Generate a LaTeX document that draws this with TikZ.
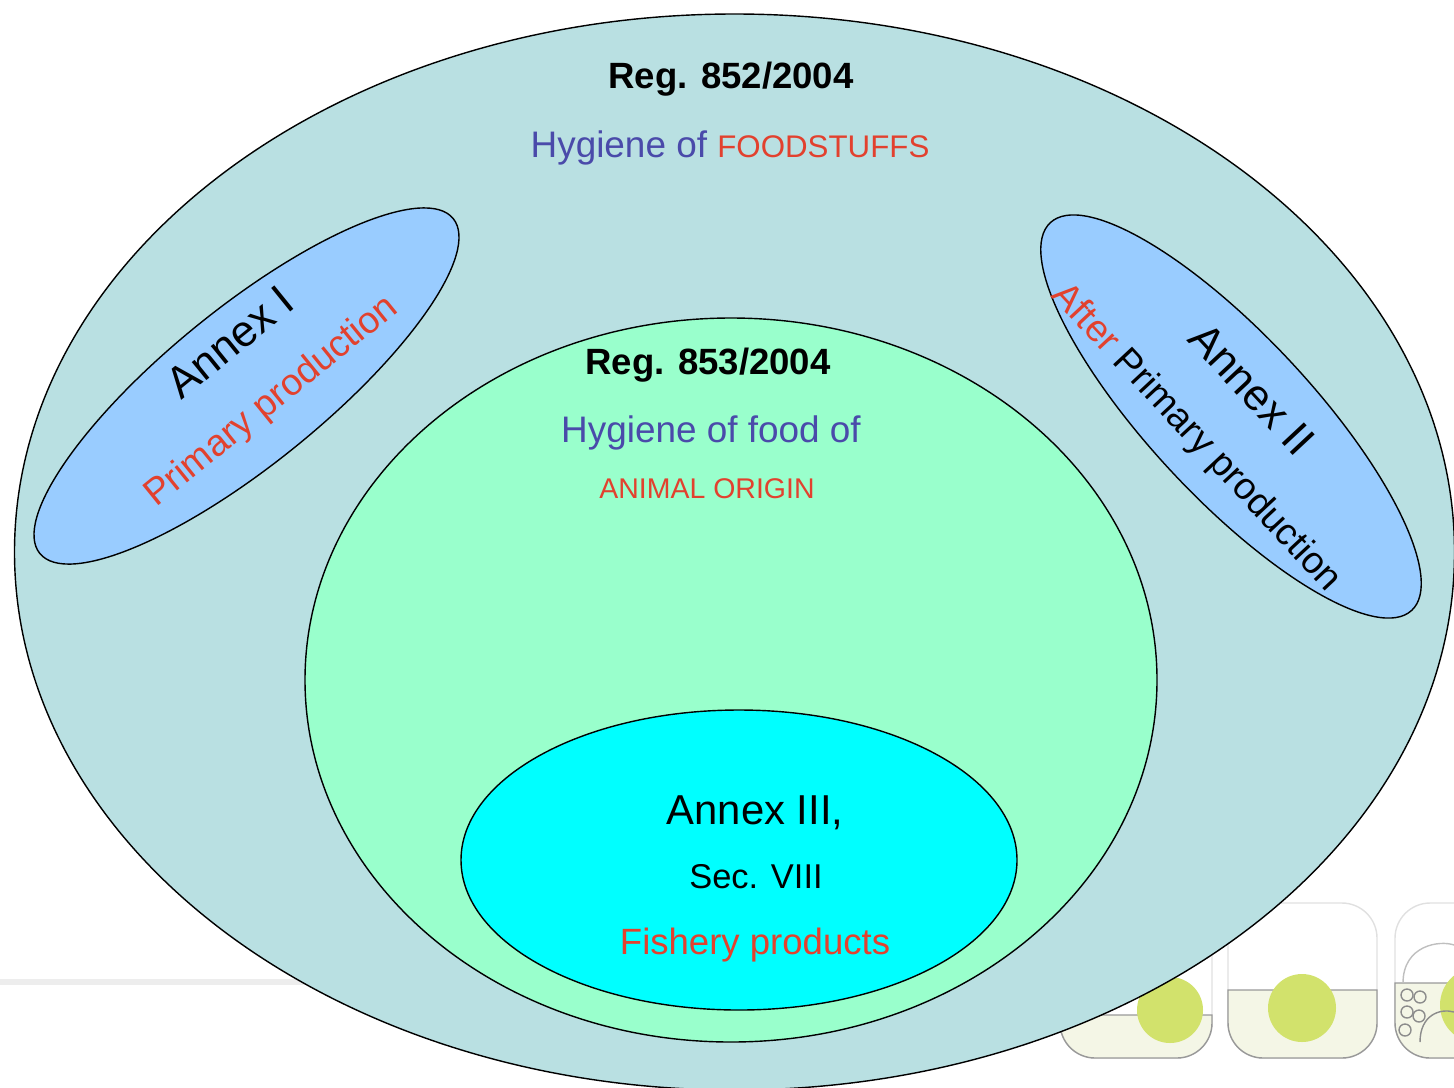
\documentclass[tikz,border=0pt]{standalone}
\usepackage{fontspec}
\setmainfont{Liberation Sans}
\usepackage{xcolor}
\definecolor{outerFill}{HTML}{B9E0E2}
\definecolor{annexFill}{HTML}{99CCFF}
\definecolor{animalFill}{HTML}{99FFCC}
\definecolor{fishFill}{HTML}{00FFFF}
\definecolor{regBlue}{HTML}{4A4AAA}
\definecolor{regRed}{HTML}{E2412E}
\definecolor{iconGreen}{HTML}{D2E26C}
\definecolor{iconFill}{HTML}{F4F6E6}
\newcommand{\pxUnit}{0.1mm}
\newcommand{\regFont}{\fontsize{10.4}{12}\selectfont\bfseries}
\newcommand{\hygFont}{\fontsize{10.5}{12}\selectfont}
\newcommand{\annexFont}{\fontsize{12.5}{14}\selectfont}
\newcommand{\annexAngleI}{39}
\newcommand{\annexAngleII}{-47}

\begin{document}
\begin{tikzpicture}[x=\pxUnit, y=-\pxUnit, set/.style={draw=black, line width=0.4pt}]

\useasboundingbox (0,0) rectangle (1454,1087);
\clip (0,0) rectangle (1454,1087);

% slide background
\draw[black!7, line width=1.5pt] (0,982) -- (1060,982);
\foreach \boxLeft/\boxRight/\waterLine in {1060/1212/1015, 1228/1377/990, 1395/1545/983}{
   \draw[black!12, rounded corners=10] (\boxLeft,903) rectangle (\boxRight,1058);
   \filldraw[draw=black!40, fill=iconFill] (\boxLeft,\waterLine) {[rounded corners=10] -- (\boxLeft,1058) -- (\boxRight,1058)} -- (\boxRight,\waterLine) -- cycle;
}
\fill[iconGreen] (1170,1010) circle [radius=33];
\fill[iconGreen] (1302,1008) circle [radius=34];
\fill[iconGreen] (1478,1005) circle [radius=38];
\foreach \grapeX/\grapeY in {1407/995, 1420/997, 1407/1012, 1419/1016, 1405/1030}
   \draw[black!45] (\grapeX,\grapeY) circle [radius=6];
\draw[black!45] (1420,1042) .. controls (1420,1015) and (1440,1008) .. (1454,1012);
\draw[black!25] (1403,983) .. controls (1403,945) and (1440,940) .. (1454,945);

% Reg. 852/2004
\filldraw[set, fill=outerFill] (734.5,552) ellipse [x radius=720, y radius=538];

% Annex I and Annex II
\filldraw[set, fill=annexFill, rotate around={\annexAngleI:(246.5,386)}] (246.5,386) ellipse [x radius=266, y radius=78];
\filldraw[set, fill=annexFill, rotate around={\annexAngleII:(1231,416.5)}] (1231,416.5) ellipse [x radius=265, y radius=81];

% Reg. 853/2004
\filldraw[set, fill=animalFill] (731,680) ellipse [x radius=426, y radius=362];
% Annex III
\filldraw[set, fill=fishFill] (739,860) ellipse [x radius=278, y radius=150];

\node (reg852) [anchor=base] at (731,88) {\regFont Reg. 852/2004};
\node (food852) [anchor=base] at (730,157) {\hygFont\color{regBlue}Hygiene of \fontsize{8.9}{10}\selectfont\color{regRed}FOODSTUFFS};

\node (annexI) [rotate=\annexAngleI] at (230,342) {\annexFont Annex I};
\node (primary) [rotate=\annexAngleI, text=regRed] at (272,402) {\fontsize{10.6}{12}\selectfont Primary production};

\node (annexII) [rotate=\annexAngleII] at (1252,389) {\annexFont Annex II};
\node (after) [rotate=\annexAngleII] at (1196,438) {\fontsize{10.7}{12}\selectfont\color{regRed}After \color{black}Primary production};

\node (reg853) [anchor=base] at (708,374) {\regFont Reg. 853/2004};
\node (food853) [anchor=base, text=regBlue] at (711,442) {\hygFont Hygiene of food of};
\node (animal) [anchor=base, text=regRed] at (707,498) {\fontsize{8.1}{10}\selectfont ANIMAL ORIGIN};

\node (annexIII) [anchor=base] at (755,824) {\fontsize{11.9}{14}\selectfont Annex III,};
\node (secVIII) [anchor=base] at (756,888) {\fontsize{9.8}{12}\selectfont Sec. VIII};
\node (fishery) [anchor=base, text=regRed] at (755,954) {\fontsize{10.4}{12}\selectfont Fishery products};

\end{tikzpicture}
\end{document}
